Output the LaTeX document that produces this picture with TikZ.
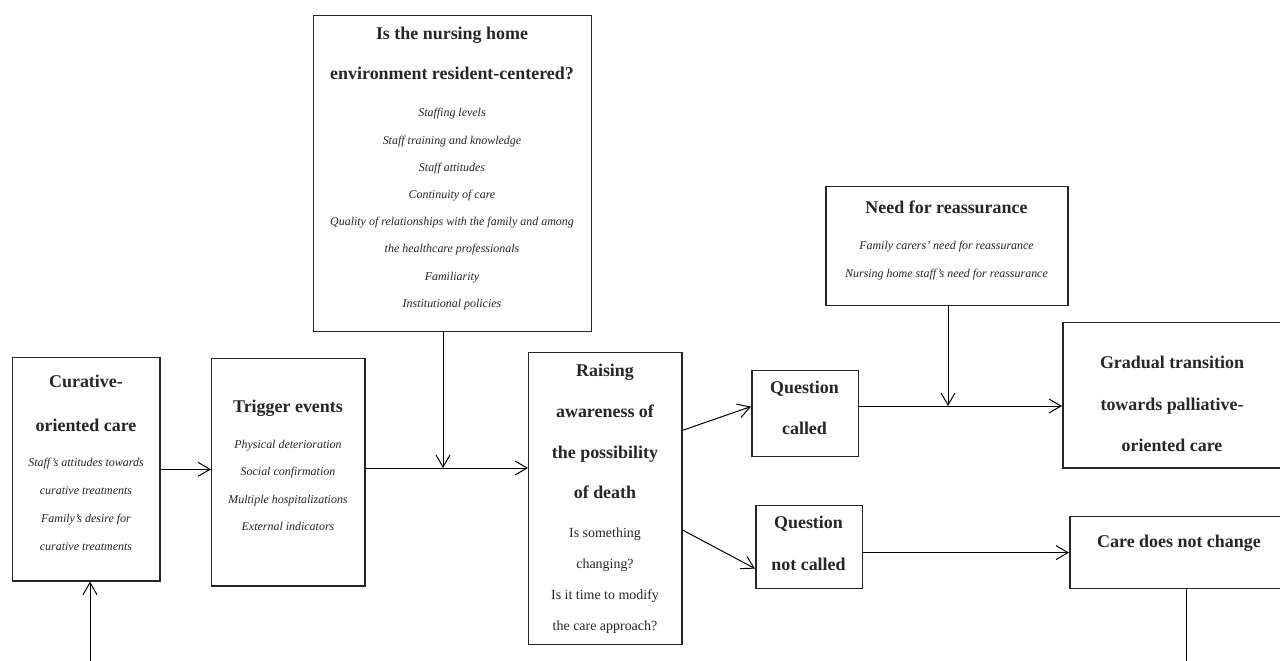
\documentclass[tikz,border=0pt]{standalone}
\usepackage{fontspec}
\setmainfont{Liberation Serif}
\usetikzlibrary{arrows.meta}

\begin{document}
\begin{tikzpicture}[
            x = 1bp, y = -1bp, % pixel-like units
            > = {Straight Barb[length=12bp,width=14bp]}, % open arrow head
            line width = 1pt
        ]

        \tikzstyle{box}=[
            draw = black!85,
            line width = 1.5pt,
            fill = white,
            anchor = north west,
            inner sep = 0pt
        ]
        \tikzstyle{title}=[
            anchor = north,
            inner sep = 0pt,
            align = center,
            text = black!85,
            font = \fontsize{18}{41}\selectfont\bfseries
        ]
        \tikzstyle{items}=[
            anchor = north,
            inner sep = 0pt,
            align = center,
            text = black!85,
            font = \fontsize{12}{27.3}\selectfont\itshape
        ]

        \useasboundingbox (0,0) rectangle (1280,661);

        % boxes
        \node[box, minimum width=148, minimum height=224] (cur) at (12,357) {};
        \node[box, minimum width=154, minimum height=228] (trig) at (211,358) {};
        \node[box, minimum width=279, minimum height=317] (env) at (313,15) {};
        \node[box, minimum width=154, minimum height=293] (raise) at (528,352) {};
        \node[box, minimum width=107, minimum height=86] (qcall) at (751,370) {};
        \node[box, minimum width=107, minimum height=83] (qnot) at (755,505) {};
        \node[box, minimum width=243, minimum height=119] (need) at (825,186) {};
        \node[box, minimum width=240, minimum height=146] (grad) at (1062,322) {};
        \node[box, minimum width=240, minimum height=72] (care) at (1069,516) {};

        % texts
        \node[title, font=\fontsize{18}{44}\selectfont\bfseries] (cur-title) at (86,375) {Curative-\\oriented care};
        \node[items, font=\fontsize{12}{28}\selectfont\itshape] (cur-list) at (86,458) {Staff's attitudes towards\\curative treatments\\Family's desire for\\curative treatments};

        \node[title] (trig-title) at (288,400) {Trigger events};
        \node[items] (trig-list) at (288,440) {Physical deterioration\\Social confirmation\\Multiple hospitalizations\\External indicators};

        \node[title, font=\fontsize{18}{40}\selectfont\bfseries] (env-title) at (452,27) {Is the nursing home\\environment resident-centered?};
        \node[items] (env-list) at (452,108) {Staffing levels\\Staff training and knowledge\\Staff attitudes\\Continuity of care\\Quality of relationships with the family and among\\the healthcare professionals\\Familiarity\\Institutional policies};

        \node[title, font=\fontsize{18}{40.7}\selectfont\bfseries] (raise-title) at (605,364) {Raising\\awareness of\\the possibility\\of death};
        \node[items, font=\fontsize{14}{31.3}\selectfont] (raise-list) at (605,527) {Is something\\changing?\\Is it time to modify\\the care approach?};

        \node[title] (qcall-title) at (804.5,381) {Question\\called};
        \node[title, font=\fontsize{18}{42}\selectfont\bfseries] (qnot-title) at (808.5,516) {Question\\not called};

        \node[title] (need-title) at (946.5,200) {Need for reassurance};
        \node[items] (need-list) at (946.5,241) {Family carers' need for reassurance\\Nursing home staff's need for reassurance};

        \node[title, font=\fontsize{18}{41.5}\selectfont\bfseries] (grad-title) at (1172,356) {Gradual transition\\towards palliative-\\oriented care};
        \node[title] (care-title) at (1179,535) {Care does not change};

        % junctions and loose ends
        \coordinate (j1) at (443,468);
        \coordinate (j2) at (948,406);
        \coordinate (bl) at (90,670);
        \coordinate (br) at (1186,670);

        % connectors
        \draw[->] (cur.east) -- (cur.east -| trig.west);
        \draw[->] (trig.east |- j1) -- (raise.west |- j1);
        \draw[->] (env.south -| j1) -- (j1);
        \draw[->] ([yshift=68.5bp]raise.east) -- ([yshift=7bp]qcall.west);
        \draw[->] ([yshift=-31.5bp]raise.east) -- ([yshift=-21.5bp]qnot.west);
        \draw[->] (qcall.east |- j2) -- (grad.west |- j2);
        \draw[->] (need.south -| j2) -- (j2);
        \draw[->] (qnot.east |- care.west) -- (care.west);
        \draw (care.south -| br) -- (br);
        \draw[->] (bl) -- (cur.south -| bl);

  \end{tikzpicture}
\end{document}
